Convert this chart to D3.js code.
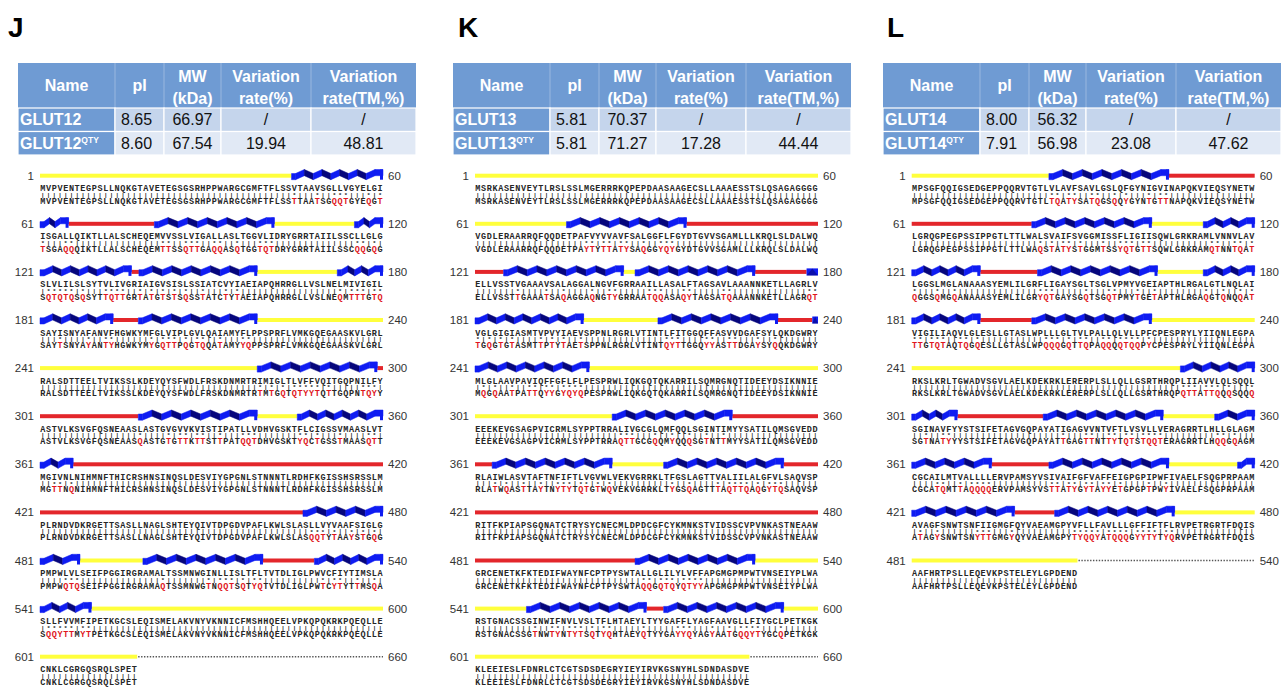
<!DOCTYPE html>
<html>
<head>
<meta charset="utf-8">
<script src="https://cdn.jsdelivr.net/npm/d3@7"></script>
<style>
  body { margin: 0; background: #fff; }
  svg { display: block; }
</style>
</head>
<body>
<script>
// ---- table values ----
var panelLetters = ["J", "K", "L"];
var proteinNames = ["GLUT12", "GLUT13", "GLUT14"];
var pIValues = [[8.65, 8.60], [5.81, 5.81], [8.00, 7.91]];
var mwValues = [[66.97, 67.54], [70.37, 71.27], [56.32, 56.98]];
var variationRate = [19.94, 17.28, 23.08];
var variationRateTM = [48.81, 44.44, 47.62];
var headerLines = [["Name"], ["pI"], ["MW", "(kDa)"], ["Variation", "rate(%)"], ["Variation", "rate(TM,%)"]];

// ---- sequences, 60 residues per row ----
var glut12Native = [
  "MVPVENTEGPSLLNQKGTAVETEGSGSRHPPWARGCGMFTFLSSVTAAVSGLLVGYELGI",
  "ISGALLQIKTLLALSCHEQEMVVSSLVIGALLASLTGGVLIDRYGRRTAIILSSCLLGLG",
  "SLVLILSLSYTVLIVGRIAIGVSISLSSIATCVYIAEIAPQHRRGLLVSLNELMIVIGIL",
  "SAYISNYAFANVFHGWKYMFGLVIPLGVLQAIAMYFLPPSPRFLVMKGQEGAASKVLGRL",
  "RALSDTTEELTVIKSSLKDEYQYSFWDLFRSKDNMRTRIMIGLTLVFFVQITGQPNILFY",
  "ASTVLKSVGFQSNEAASLASTGVGVVKVISTIPATLLVDHVGSKTFLCIGSSVMAASLVT",
  "MGIVNLNIHMNFTHICRSHNSINQSLDESVIYGPGNLSTNNNTLRDHFKGISSHSRSSLM",
  "PLRNDVDKRGETTSASLLNAGLSHTEYQIVTDPGDVPAFLKWLSLASLLVYVAAFSIGLG",
  "PMPWLVLSEIFPGGIRGRAMALTSSMNWGINLLISLTFLTVTDLIGLPWVCFIYTIMSLA",
  "SLLFVVMFIPETKGCSLEQISMELAKVNYVKNNICFMSHHQEELVPKQPQKRKPQEQLLE",
  "CNKLCGRGQSRQLSPET"
];
var glut12Qty = [
  "MVPVENTEGPSLLNQKGTAVETEGSGSRHPPWARGCGMFTFLSSTTAATSGQQTGYEQGT",
  "TSGAQQQIKTLLALSCHEQEMTTSSQTTGAQQASQTGGTQTDRYGRRTAIILSSCQQGQG",
  "SQTQTQSQSYTTQTTGRTATGTSTSQSSTATCTYTAEIAPQHRRGLLVSLNEQMTTTGTQ",
  "SAYTSNYAYANTYHGWKYMYGQTTPQGTQQATAMYYQPPSPRFLVMKGQEGAASKVLGRL",
  "RALSDTTEELTVIKSSLKDEYQYSFWDLFRSKDNMRTRTMTGQTQTYYTQTTGQPNTQYY",
  "ASTVLKSVGFQSNEAASQASTGTGTTKTTSTTPATQQTDHVGSKTYQCTGSSTMAASQTT",
  "MGTTNQNIHMNFTHICRSHNSINQSLDESVIYGPGNLSTNNNTLRDHFKGISSHSRSSLM",
  "PLRNDVDKRGETTSASLLNAGLSHTEYQIVTDPGDVPAFLKWLSLASQQTYTAAYSTGQG",
  "PMPWQTQSEIFPGGIRGRAMAQTSSMNWGTNQQTSQTYQTVTDLIGLPWTCYTYTTMSQA",
  "SQQYTTMYTPETKGCSLEQISMELAKVNYVKNNICFMSHHQEELVPKQPQKRKPQEQLLE",
  "CNKLCGRGQSRQLSPET"
];
var glut13Native = [
  "MSRKASENVEYTLRSLSSLMGERRRKQPEPDAASAAGECSLLAAAESSTSLQSAGAGGGG",
  "VGDLERAARRQFQQDETPAFVYVVAVFSALGGFLFGYDTGVVSGAMLLLKRQLSLDALWQ",
  "ELLVSSTVGAAAVSALAGGALNGVFGRRAAILLASALFTAGSAVLAAANNKETLLAGRLV",
  "VGLGIGIASMTVPVYIAEVSPPNLRGRLVTINTLFITGGQFFASVVDGAFSYLQKDGWRY",
  "MLGLAAVPAVIQFFGFLFLPESPRWLIQKGQTQKARRILSQMRGNQTIDEEYDSIKNNIE",
  "EEEKEVGSAGPVICRMLSYPPTRRALIVGCGLQMFQQLSGINTIMYYSATILQMSGVEDD",
  "RLAIWLASVTAFTNFIFTLVGVWLVEKVGRRKLTFGSLAGTTVALIILALGFVLSAQVSP",
  "RITFKPIAPSGQNATCTRYSYCNECMLDPDCGFCYKMNKSTVIDSSCVPVNKASTNEAAW",
  "GRCENETKFKTEDIFWAYNFCPTPYSWTALLGLILYLVFFAPGMGPMPWTVNSEIYPLWA",
  "RSTGNACSSGINWIFNVLVSLTFLHTAEYLTYYGAFFLYAGFAAVGLLFIYGCLPETKGK",
  "KLEEIESLFDNRLCTCGTSDSDEGRYIEYIRVKGSNYHLSDNDASDVE"
];
var glut13Qty = [
  "MSRKASENVEYTLRSLSSLMGERRRKQPEPDAASAAGECSLLAAAESSTSLQSAGAGGGG",
  "VGDLERAARRQFQQDETPAYTYTTATYSAQGGYQYGYDTGVVSGAMLLLKRQLSLDALWQ",
  "ELLVSSTTGAAATSAQAGGAQNGTYGRRAATQQASAQYTAGSATQAAANNKETLLAGRQT",
  "TGQGTGTASMTTPTYTAETSPPNLRGRLVTINTQYTTGGQYYASTTDGAYSYQQKDGWRY",
  "MQGQAATPATTQYYGYQYQPESPRWLIQKGQTQKARRILSQMRGNQTIDEEYDSIKNNIE",
  "EEEKEVGSAGPVICRMLSYPPTRRAQTTGCGQQMYQQQSGTNTTMYYSATILQMSGVEDD",
  "RLATWQASTTAYTNYTYTQTGTWQVEKVGRRKLTYGSQAGTTTAQTTQAQGYTQSAQVSP",
  "RITFKPIAPSGQNATCTRYSYCNECMLDPDCGFCYKMNKSTVIDSSCVPVNKASTNEAAW",
  "GRCENETKFKTEDIFWAYNFCPTPYSWTAQQGQTQYQTYYAPGMGPMPWTVNSEIYPLWA",
  "RSTGNACSSGTNWTYNTYTSQTYQHTAEYQTYYGAYYQYAGYAATGQQYTYGCQPETKGK",
  "KLEEIESLFDNRLCTCGTSDSDEGRYIEYIRVKGSNYHLSDNDASDVE"
];
var glut14Native = [
  "MPSGFQQIGSEDGEPPQQRVTGTLVLAVFSAVLGSLQFGYNIGVINAPQKVIEQSYNETW",
  "LGRQGPEGPSSIPPGTLTTLWALSVAIFSVGGMISSFLIGIISQWLGRKRAMLVNNVLAV",
  "LGGSLMGLANAAASYEMLILGRFLIGAYSGLTSGLVPMYVGEIAPTHLRGALGTLNQLAI",
  "VIGILIAQVLGLESLLGTASLWPLLLGLTVLPALLQLVLLPFCPESPRYLYIIQNLEGPA",
  "RKSLKRLTGWADVSGVLAELKDEKRKLERERPLSLLQLLGSRTHRQPLIIAVVLQLSQQL",
  "SGINAVFYYSTSIFETAGVGQPAYATIGAGVVNTVFTLVSVLLVERAGRRTLHLLGLAGM",
  "CGCAILMTVALLLLERVPAMSYVSIVAIFGFVAFFEIGPGPIPWFIVAELFSQGPRPAAM",
  "AVAGFSNWTSNFIIGMGFQYVAEAMGPYVFLLFAVLLLGFFIFTFLRVPETRGRTFDQIS",
  "AAFHRTPSLLEQEVKPSTELEYLGPDEND"
];
var glut14Qty = [
  "MPSGFQQIGSEDGEPPQQRVTGTLTQATYSATQGSQQYGYNTGTTNAPQKVIEQSYNETW",
  "LGRQGPEGPSSIPPGTLTTLWAQSTATYSTGGMTSSYQTGTTSQWLGRKRAMQTNNTQAT",
  "QGGSQMGQANAAASYEMLILGRYQTGAYSGQTSGQTPMYTGETAPTHLRGAQGTQNQQAT",
  "TTGTQTAQTQGQESLLGTASLWPQQQGQTTQPAQQQQTQQPYCPESPRYLYIIQNLEGPA",
  "RKSLKRLTGWADVSGVLAELKDEKRKLERERPLSLLQLLGSRTHRQPQTTATTQQQSQQQ",
  "SGTNATYYYSTSIFETAGVGQPAYATTGAGTTNTTYTQTSTQQTERAGRRTLHQQGQAGM",
  "CGCATQMTTAQQQQERVPAMSYVSTTATYGYTAYYETGPGPTPWYIVAELFSQGPRPAAM",
  "ATAGYSNWTSNYTTGMGYQYVAEAMGPYTYQQYATQQQGYYTYTYQRVPETRGRTFDQIS",
  "AAFHRTPSLLEQEVKPSTELEYLGPDEND"
];

// ---- secondary structure per row: [type, fromResidue, toResidue] (within row, 0..60)
// H helix, C coil (yellow), L loop (red), D no residue (dotted)
var glut12Structure = [
  [["C", 0, 44], ["H", 44, 60]],
  [["H", 0, 5], ["L", 5, 20], ["H", 20, 41], ["C", 41, 55], ["H", 55, 60]],
  [["H", 0, 16], ["L", 16, 17.3], ["H", 17.3, 38], ["C", 38, 52], ["H", 52, 60]],
  [["H", 0, 12.8], ["L", 12.8, 17.2], ["H", 17.2, 38], ["C", 38, 60]],
  [["C", 0, 38], ["H", 38, 59], ["L", 59, 60]],
  [["L", 0, 17.2], ["H", 17.2, 38], ["C", 38, 45], ["H", 45, 60]],
  [["H", 0, 5.8], ["L", 5.8, 60]],
  [["L", 0, 46], ["H", 46, 60]],
  [["H", 0, 7], ["C", 7, 18], ["H", 18, 39], ["L", 39, 48], ["H", 48, 60]],
  [["H", 0, 9], ["C", 9, 60]],
  [["C", 0, 17], ["D", 17, 60]]
];
var glut13Structure = [
  [["C", 0, 60]],
  [["C", 0, 16], ["H", 16, 37], ["L", 37, 60]],
  [["L", 0, 5], ["H", 5, 26], ["C", 26, 28], ["H", 28, 49], ["L", 49, 58], ["H", 58, 60]],
  [["H", 0, 19], ["C", 19, 32], ["H", 32, 53], ["L", 53, 59], ["H", 59, 60]],
  [["H", 0, 20], ["C", 20, 60]],
  [["C", 0, 24], ["H", 24, 45], ["L", 45, 60]],
  [["L", 0, 3], ["H", 3, 24], ["C", 24, 33], ["H", 33, 54], ["L", 54, 60]],
  [["L", 0, 60]],
  [["L", 0, 28], ["H", 28, 49], ["C", 49, 60]],
  [["C", 0, 9], ["H", 9, 30], ["L", 30, 33], ["H", 33, 54], ["C", 54, 60]],
  [["C", 0, 48], ["D", 48, 60]]
];
var glut14Structure = [
  [["C", 0, 24], ["H", 24, 45], ["L", 45, 60]],
  [["L", 0, 21], ["H", 21, 42], ["C", 42, 51], ["H", 51, 60]],
  [["H", 0, 12], ["L", 12, 22], ["H", 22, 43], ["C", 43, 51], ["H", 51, 60]],
  [["H", 0, 12], ["L", 12, 21], ["H", 21, 42], ["C", 42, 60]],
  [["C", 0, 47], ["H", 47, 60]],
  [["H", 0, 8], ["L", 8, 23], ["H", 23, 44], ["C", 44, 53], ["H", 53, 60]],
  [["H", 0, 14], ["L", 14, 24], ["H", 24, 45], ["C", 45, 57], ["H", 57, 60]],
  [["H", 0, 18], ["L", 18, 25], ["H", 25, 46], ["C", 46, 60]],
  [["C", 0, 29], ["D", 29, 60]]
];

var nativeSeqs = [glut12Native, glut13Native, glut14Native];
var qtySeqs = [glut12Qty, glut13Qty, glut14Qty];
var structures = [glut12Structure, glut13Structure, glut14Structure];

// ---- layout ----
var W = 1282, H = 697;
var letterX = [8, 458, 887];
var tableX = [18, 453, 883];
var seqX = [40, 475, 911.7];
var seqWidth = 343;
var colWidths = [97, 49, 57, 90, 105];
var tableTop = 63, headerH = 45, rowH = 23.5;

var blue = "#0f1cf2", darkBlue = "#06067c", yellow = "#ffff3c", red = "#e3262b";
var headerFill = "#6f9bd3", row1Fill = "#c5d5ec", row2Fill = "#e1e9f5";
var sans = "'Liberation Sans', Arial, sans-serif";
var mono = "'Liberation Mono', 'Courier New', monospace";
var textGrey = "#262626";
var fmt = d3.format(".2f");

var svg = d3.select("body").append("svg")
    .attr("width", W)
    .attr("height", H);
svg.append("rect").attr("width", W).attr("height", H).attr("fill", "#fff");

var rowY = d3.scaleLinear().domain([0, 10]).range([175.7, 656.7]);

function drawHelix(g, xa, xb, y) {
    var w = xb - xa;
    if (w < 16) {
        g.append("rect").attr("x", xa).attr("y", y - 3.5)
            .attr("width", w).attr("height", 7).attr("fill", blue);
        g.append("path").attr("d", "M" + xa + "," + (y + 3.5) + "L" + (xa + w * 0.5) + "," + (y - 3.5) + "L" + xb + "," + (y + 3.5) + "Z")
            .attr("fill", darkBlue).attr("opacity", 0.6);
        return;
    }
    var yb = y + 0.9, yt = y - 3.1, t = 3.1;
    var pts = [[xa, yb], [xa + 4, yb]];
    var span = w - 4 - 8;
    var m = Math.round(span / 9.6);
    if (m % 2 === 0) m += 1;
    var h = span / m;
    for (var k = 1; k <= m; k++) {
        pts.push([xa + 4 + k * h, k % 2 ? yt : yb]);
    }
    pts.push([xb, yt]);
    var segs = d3.pairs(pts);
    g.selectAll(null)
        .data(segs)
        .enter()
        .append("path")
        .attr("d", function(s){
            var a = s[0], b = s[1];
            return "M" + a[0] + "," + (a[1] - t) + "L" + b[0] + "," + (b[1] - t) +
                   "L" + b[0] + "," + (b[1] + t) + "L" + a[0] + "," + (a[1] + t) + "Z";
        })
        .attr("fill", function(s){ return s[1][1] > s[0][1] ? darkBlue : blue; })
        .attr("stroke", function(s){ return s[1][1] > s[0][1] ? darkBlue : blue; })
        .attr("stroke-width", 0.5);
    // end block drops back to the bar
    g.append("rect").attr("x", xb - 3).attr("y", yt - t)
        .attr("width", 3).attr("height", yb + t - (yt - t)).attr("fill", blue);
}

panelLetters.forEach(function(letter, p){
    var g = svg.append("g");

    // panel letter
    g.append("text")
        .attr("x", letterX[p]).attr("y", 37)
        .attr("font-family", sans).attr("font-weight", "bold")
        .attr("font-size", 28).attr("fill", "#000")
        .text(letter);

    // ---- table ----
    var colX = [tableX[p]];
    colWidths.forEach(function(cw, i){ colX.push(colX[i] + cw); });
    var tw = colX[colX.length - 1] - tableX[p];

    var tableRows = [
        [proteinNames[p], fmt(pIValues[p][0]), fmt(mwValues[p][0]), "/", "/"],
        [proteinNames[p], fmt(pIValues[p][1]), fmt(mwValues[p][1]), fmt(variationRate[p]), fmt(variationRateTM[p])]
    ];

    g.append("rect")
        .attr("x", tableX[p]).attr("y", tableTop)
        .attr("width", tw).attr("height", headerH)
        .attr("fill", headerFill);

    headerLines.forEach(function(lines, c){
        var cx = (colX[c] + colX[c + 1]) / 2;
        var t = g.append("text")
            .attr("text-anchor", "middle")
            .attr("font-family", sans).attr("font-weight", "bold")
            .attr("font-size", 16).attr("fill", "#fff");
        if (lines.length === 1) {
            t.attr("x", cx).attr("y", tableTop + headerH / 2 + 5.7).text(lines[0]);
        } else {
            lines.forEach(function(s, li){
                t.append("tspan").attr("x", cx)
                    .attr("y", tableTop + 13 + 5.7 + li * 22)
                    .text(s);
            });
        }
    });

    tableRows.forEach(function(row, r){
        var y0 = tableTop + headerH + r * rowH;
        row.forEach(function(val, c){
            g.append("rect")
                .attr("x", colX[c]).attr("y", y0)
                .attr("width", colWidths[c]).attr("height", rowH)
                .attr("fill", c === 0 ? headerFill : (r === 0 ? row1Fill : row2Fill))
                .attr("stroke", "#fff").attr("stroke-width", 1.2);
            if (c === 0) {
                var nt = g.append("text")
                    .attr("x", colX[c] + 2).attr("y", y0 + rowH / 2 + 5.7)
                    .attr("font-family", sans).attr("font-weight", "bold")
                    .attr("font-size", 16).attr("fill", "#fff")
                    .text(val);
                if (r === 1) {
                    nt.append("tspan").attr("dy", -6).attr("font-size", 8.5).text("QTY");
                }
            } else {
                g.append("text")
                    .attr("x", (colX[c] + colX[c + 1]) / 2 - (c === 1 ? 3 : 0))
                    .attr("y", y0 + rowH / 2 + 5.7)
                    .attr("text-anchor", "middle")
                    .attr("font-family", sans).attr("font-size", 16)
                    .attr("fill", "#111")
                    .text(val);
            }
        });
    });
    // faint separators on the header
    colX.slice(1, -1).forEach(function(x){
        g.append("line").attr("x1", x).attr("x2", x)
            .attr("y1", tableTop).attr("y2", tableTop + headerH)
            .attr("stroke", "#fff").attr("stroke-width", 0.6).attr("opacity", 0.5);
    });

    // ---- alignment blocks ----
    var xRes = d3.scaleLinear().domain([0, 60]).range([seqX[p], seqX[p] + seqWidth]);
    var xChar = d3.scaleBand().domain(d3.range(60)).range([seqX[p], seqX[p] + seqWidth]);
    var bw = xChar.bandwidth();

    nativeSeqs[p].forEach(function(nat, r){
        var qty = qtySeqs[p][r];
        var y = rowY(r);
        var rg = g.append("g");

        // residue numbers
        rg.append("text")
            .attr("x", seqX[p] - 6).attr("y", y + 4)
            .attr("text-anchor", "end")
            .attr("font-family", sans).attr("font-size", 11.5).attr("fill", "#333")
            .text(r * 60 + 1);
        rg.append("text")
            .attr("x", seqX[p] + seqWidth + 5).attr("y", y + 4)
            .attr("font-family", sans).attr("font-size", 11.5).attr("fill", "#333")
            .text(r * 60 + 60);

        // structure bar: lines first, helices on top
        var segs = structures[p][r];
        segs.forEach(function(s){
            if (s[0] === "C" || s[0] === "L") {
                rg.append("rect")
                    .attr("x", xRes(s[1])).attr("y", y - 2)
                    .attr("width", xRes(s[2]) - xRes(s[1])).attr("height", 4)
                    .attr("fill", s[0] === "C" ? yellow : red);
            } else if (s[0] === "D") {
                rg.append("line")
                    .attr("x1", xRes(s[1]) + 1).attr("x2", xRes(s[2]))
                    .attr("y1", y).attr("y2", y)
                    .attr("stroke", "#555").attr("stroke-width", 1.4)
                    .attr("stroke-dasharray", "1.4,1.5");
            }
        });
        segs.filter(function(s){ return s[0] === "H"; }).forEach(function(s){
            drawHelix(rg, xRes(s[1]), xRes(s[2]), y);
        });

        var chars = nat.split("").map(function(ch, i){
            return { i: i, a: ch, b: qty[i], same: ch === qty[i] };
        });

        rg.selectAll("text.nat")
            .data(chars).enter().append("text")
            .attr("class", "nat")
            .attr("x", function(d){ return xChar(d.i) + bw / 2; })
            .attr("y", y + 15.5)
            .attr("text-anchor", "middle")
            .attr("font-family", mono).attr("font-weight", "bold")
            .attr("font-size", 8.5).attr("fill", textGrey)
            .text(function(d){ return d.a; });

        // match line: '|' identical, '*' substituted
        rg.selectAll("text.mat")
            .data(chars).enter().append("text")
            .attr("class", "mat")
            .attr("x", function(d){ return xChar(d.i) + bw / 2; })
            .attr("y", function(d){ return d.same ? y + 21.0 : y + 21.2; })
            .attr("text-anchor", "middle")
            .attr("font-family", mono).attr("font-weight", "bold")
            .attr("font-size", function(d){ return d.same ? 5.8 : 6.2; })
            .attr("fill", textGrey)
            .text(function(d){ return d.same ? "|" : "*"; });

        rg.selectAll("text.qty")
            .data(chars).enter().append("text")
            .attr("class", "qty")
            .attr("x", function(d){ return xChar(d.i) + bw / 2; })
            .attr("y", y + 28.0)
            .attr("text-anchor", "middle")
            .attr("font-family", mono).attr("font-weight", "bold")
            .attr("font-size", 8.5)
            .attr("fill", function(d){ return d.same ? textGrey : "#e0161c"; })
            .text(function(d){ return d.b; });
    });
});
</script>
</body>
</html>
